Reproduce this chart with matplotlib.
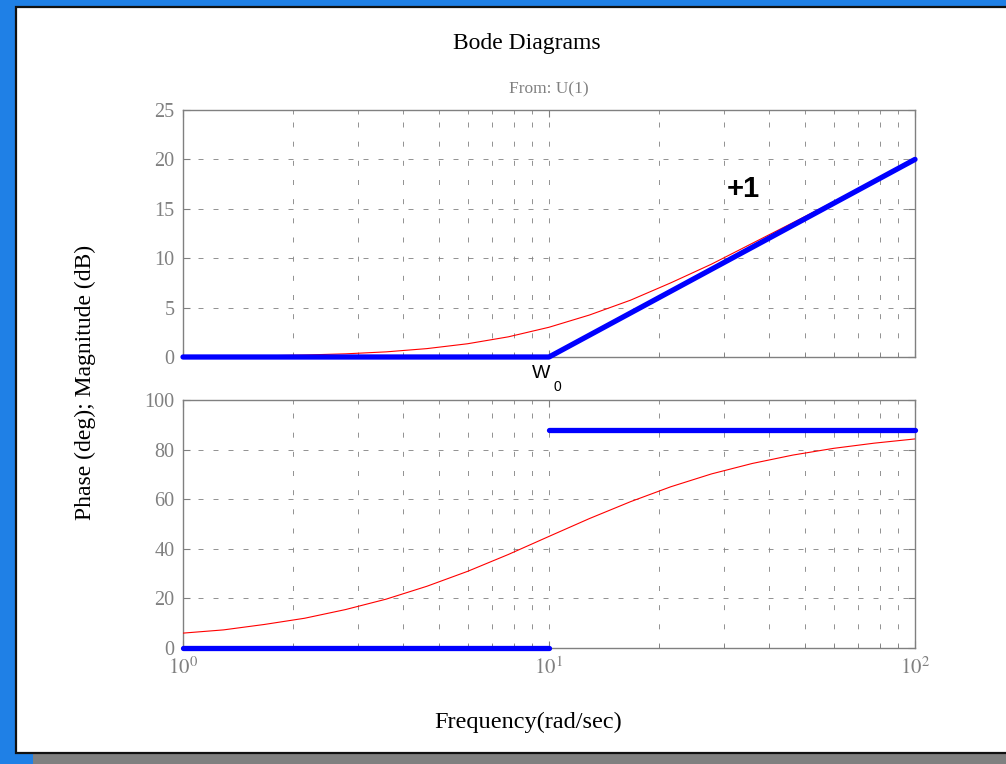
import matplotlib
matplotlib.use("Agg")
import matplotlib.pyplot as plt
from matplotlib.patches import Rectangle

freq = [1.0, 1.29, 1.67, 2.15, 2.78, 3.59, 4.64, 5.99, 7.74, 10.0,
        12.9, 16.7, 21.5, 27.8, 35.9, 46.4, 59.9, 77.4, 100.0]
mag_db = [0.04, 0.07, 0.12, 0.2, 0.32, 0.52, 0.85, 1.34, 2.04, 3.01,
          4.25, 5.75, 7.5, 9.4, 11.5, 13.6, 15.7, 17.8, 20.0]
phase_deg = [6.0, 7.3, 9.5, 12.0, 15.5, 19.7, 24.9, 30.9, 37.7, 45.0,
             52.2, 59.0, 65.0, 70.2, 74.4, 77.8, 80.5, 82.6, 84.3]

# straight-line asymptotes
asym_mag_w = [1, 10, 100]
asym_mag = [0, 0, 20]
asym_ph_lo_w = [1, 10]
asym_ph_lo = [0, 0]
asym_ph_hi_w = [10, 100]
asym_ph_hi = [88, 88]

W, H = 1006, 764
GRAY = "#808080"

plt.rcParams["font.family"] = ["Liberation Serif", "DejaVu Serif"]
plt.rcParams["mathtext.fontset"] = "stix"

fig = plt.figure(figsize=(W / 100, H / 100), dpi=100)
fig.patch.set_facecolor("#1f80e6")

def px(x0, y0, x1, y1):
    # pixel box (top-left origin) -> figure fraction rect
    return (x0 / W, 1 - y1 / H, (x1 - x0) / W, (y1 - y0) / H)

# window panel, frame and bottom strip
x, y, w, h = px(33, 753, W, H)
fig.patches.append(Rectangle((x, y), w, h, transform=fig.transFigure,
                             facecolor=GRAY, edgecolor="none", zorder=-10))
x, y, w, h = px(16, 7, W + 2, 753)
fig.patches.append(Rectangle((x, y), w, h, transform=fig.transFigure,
                             facecolor="white", edgecolor="#111111",
                             linewidth=1.6, zorder=-10))


def style_axes(ax):
    ax.set_xscale("log")
    ax.set_xlim(1, 100)
    ax.patch.set_alpha(0)
    for s in ax.spines.values():
        s.set_color(GRAY)
        s.set_linewidth(1.0)
    ax.tick_params(which="both", direction="in", colors=GRAY, top=True,
                   right=True, labelsize=14.5, labelcolor=GRAY, pad=6)
    ax.tick_params(which="major", length=5)
    ax.tick_params(which="minor", length=3)
    ax.grid(which="both", axis="x", color=GRAY, linestyle=(0, (6, 17)),
            linewidth=0.6)
    ax.grid(which="major", axis="y", color=GRAY, linestyle=(0, (6, 12)),
            linewidth=0.6)
    ax.set_axisbelow(True)


ax_mag = fig.add_axes(px(183, 110, 915, 357))
style_axes(ax_mag)
ax_mag.set_ylim(0, 25)
ax_mag.set_yticks([0, 5, 10, 15, 20, 25])
ax_mag.tick_params(labelbottom=False)
ax_mag.plot(freq, mag_db, color="red", linewidth=0.8, zorder=3)
ax_mag.plot(asym_mag_w, asym_mag, color="#0000ff", linewidth=3.8,
            solid_capstyle="round", zorder=4, clip_on=False)
ax_mag.text(34, 17, "+1", fontsize=21, fontweight="bold",
            family="Liberation Sans", ha="center", va="center")

ax_ph = fig.add_axes(px(183, 400, 915, 648))
style_axes(ax_ph)
ax_ph.set_ylim(0, 100)
ax_ph.set_yticks([0, 20, 40, 60, 80, 100])
ax_ph.set_xticks([1, 10, 100])
ax_ph.set_xticklabels([r"$10^0$", r"$10^1$", r"$10^2$"])
ax_ph.tick_params(axis="x", labelsize=15, pad=7)
ax_ph.plot(freq, phase_deg, color="red", linewidth=0.8, zorder=3)
ax_ph.plot(asym_ph_lo_w, asym_ph_lo, color="#0000ff", linewidth=3.8,
           solid_capstyle="round", zorder=4, clip_on=False)
ax_ph.plot(asym_ph_hi_w, asym_ph_hi, color="#0000ff", linewidth=3.8,
           solid_capstyle="round", zorder=4, clip_on=False)

# break frequency label
fig.text(541 / W, 1 - 373 / H, "W", family="Liberation Sans",
         fontsize=14, ha="center", va="center")
fig.text(557 / W, 1 - 387 / H, "0", family="Liberation Sans",
         fontsize=10, ha="center", va="center")

fig.text(527 / W, 1 - 43 / H, "Bode Diagrams", fontsize=17, ha="center",
         va="center")
fig.text(549 / W, 1 - 89 / H, "From: U(1)", fontsize=12.5, color=GRAY,
         ha="center", va="center")
fig.text(85 / W, 1 - 382 / H, "Phase (deg); Magnitude (dB)", fontsize=17,
         rotation=90, ha="center", va="center")
fig.text(528 / W, 1 - 722 / H, "Frequency(rad/sec)", fontsize=17.5,
         ha="center", va="center")

fig.savefig("out.png", dpi=100, facecolor=fig.get_facecolor())
